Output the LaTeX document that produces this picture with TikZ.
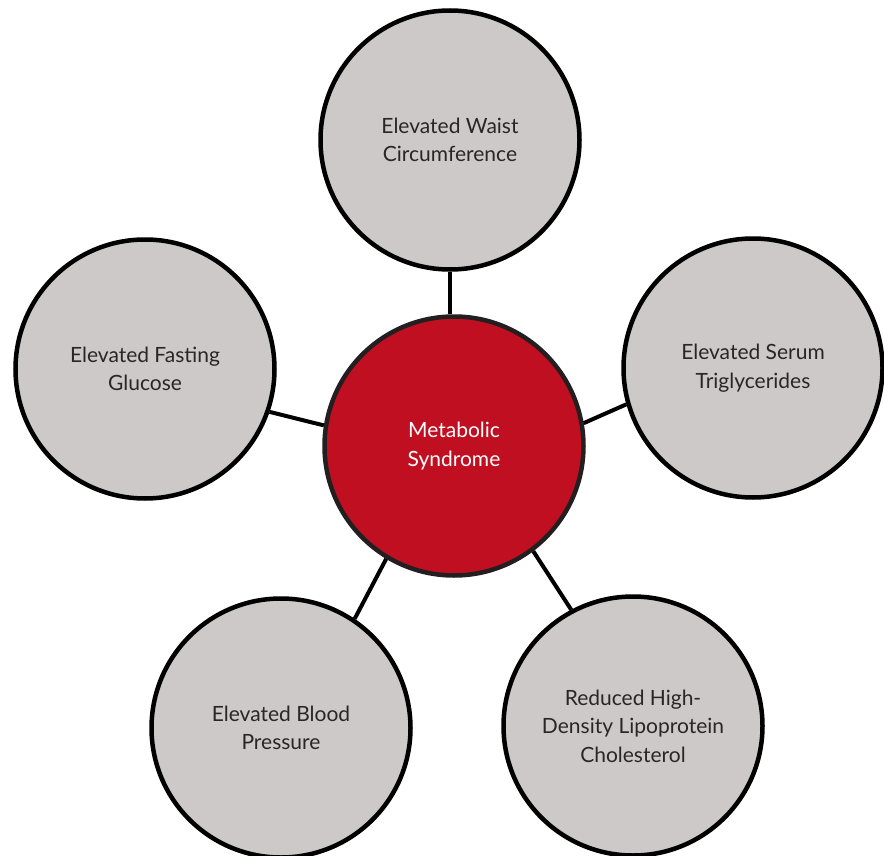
\documentclass[tikz,border=0pt]{standalone}
\usepackage{fontspec}
\setmainfont{Lato}
\definecolor{ringgray}{HTML}{CCC9C8}
\definecolor{synred}{HTML}{C00F21}
\definecolor{txtdark}{HTML}{2A2627}
\definecolor{rimdark}{HTML}{231F20}
\begin{document}
\begin{tikzpicture}[x=1pt,y=-1pt,
  factor/.style={circle, draw=black, fill=ringgray, line width=4.5pt,
    minimum size=259pt, inner sep=0pt, align=center, text=txtdark,
    font=\fontsize{21}{28.5}\selectfont},
  hub/.style={factor, fill=synred, draw=rimdark, text=white},
  link/.style={draw=black, line width=4pt}]
\useasboundingbox (0,0) rectangle (884,856);
\node[hub] (c) at (454,446) {Metabolic\\Syndrome};
\node[factor] (t) at (450,140) {Elevated Waist\\Circumference};
\node[factor] (l) at (145,369) {Elevated Fasting\\Glucose};
\node[factor] (r) at (753,368) {Elevated Serum\\Triglycerides};
\node[factor] (bl) at (281,728) {Elevated Blood\\Pressure};
\node[factor] (br) at (633,726) {Reduced High-\\Density Lipoprotein\\Cholesterol};
\draw[link] (t.south) -- (t.south |- c.north);
\draw[link] (c.171.6) -- (l.-19);
\draw[link] (c.10.5) -- (r.196);
\draw[link] (c.239.5) -- (bl.56.8);
\draw[link] (c.-53.9) -- (br.118.5);
\end{tikzpicture}
\end{document}
